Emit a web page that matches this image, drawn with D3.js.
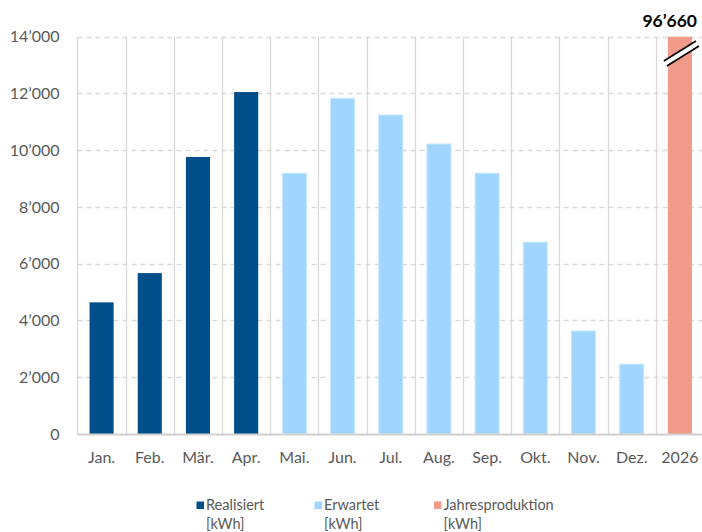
<!DOCTYPE html>
<html><head><meta charset="utf-8">
<script src="https://cdn.jsdelivr.net/npm/d3@7/dist/d3.min.js"></script>
<style>html,body{margin:0;padding:0;background:#fff;overflow:hidden}svg{display:block;font-family:Lato,"Open Sans",sans-serif}</style>
</head><body>
<svg id="c" width="702" height="532"></svg>
<script>
const categories = ["Jan.","Feb.","Mär.","Apr.","Mai.","Jun.","Jul.","Aug.","Sep.","Okt.","Nov.","Dez.","2026"];
const realisiert = [4640, 5670, 9760, 12050];           // Jan.–Apr.
const erwartet = [9190, 11830, 11240, 10220, 9190, 6760, 3630, 2460]; // Mai.–Dez.
const jahresproduktion = [96660];                        // 2026
const yTicks = [0, 2000, 4000, 6000, 8000, 10000, 12000, 14000];
const legendLabels = ["Realisiert", "Erwartet", "Jahresproduktion"];
const legendUnit = "[kWh]";

const colors = {Realisiert:"#004f8b", Erwartet:"#a0d6fe", Jahresproduktion:"#f29a8a"};

const rows = [];
realisiert.forEach((v,i)=>rows.push({cat:categories[i], value:v, series:"Realisiert"}));
erwartet.forEach((v,i)=>rows.push({cat:categories[i+realisiert.length], value:v, series:"Erwartet"}));
jahresproduktion.forEach((v,i)=>rows.push({cat:categories[i+realisiert.length+erwartet.length], value:v, series:"Jahresproduktion"}));

const svg = d3.select("#c");
const pL = 77.5, pR = 704, pT = 36.7, pB = 434;
const x = d3.scaleBand().domain(categories).range([pL, pR]).paddingInner(0.5).paddingOuter(0.25);
const y = d3.scaleLinear().domain([0, 14000]).range([pB, pT]).clamp(true);
const step = x.step();
const loc = d3.formatLocale({decimal:".", thousands:"\u2019", grouping:[3], currency:["",""]});
const fmt = loc.format(",d");

// horizontal dashed gridlines
svg.append("g").selectAll("line").data(yTicks.filter(t=>t>0)).join("line")
  .attr("x1", pL).attr("x2", pR).attr("y1", d=>Math.round(y(d))+0.5).attr("y2", d=>Math.round(y(d))+0.5)
  .attr("stroke", "#d9d9d9").attr("stroke-width", 1.3).attr("stroke-dasharray", "5,4");

// vertical category separators
const seps = categories.map(c => x(c) - step*0.25);
svg.append("g").selectAll("line").data(seps).join("line")
  .attr("x1", d=>Math.round(d)+0.5).attr("x2", d=>Math.round(d)+0.5).attr("y1", pT).attr("y2", pB)
  .attr("stroke", "#d9d9d9").attr("stroke-width", 1.3);

// bars
svg.append("g").selectAll("rect").data(rows).join("rect")
  .attr("x", d=>x(d.cat)).attr("width", x.bandwidth())
  .attr("y", d=>y(d.value)).attr("height", d=>y(0)-y(d.value))
  .attr("fill", d=>colors[d.series])
  .attr("stroke", d=>d.series==="Erwartet" ? "#c8e8ff" : "none").attr("stroke-width", 1);

// baseline axis
svg.append("line").attr("x1", pL).attr("x2", pR).attr("y1", pB+0.5).attr("y2", pB+0.5)
  .attr("stroke", "#d0d0d0").attr("stroke-width", 2);

// y axis labels
const yAxis = d3.axisLeft(y).tickValues(yTicks).tickFormat(fmt).tickSize(0).tickPadding(0);
const gy = svg.append("g").attr("transform", `translate(${pL-18},0)`).call(yAxis);
gy.select(".domain").remove();
gy.selectAll("text").attr("font-size", 16).attr("fill", "#595959").attr("font-family", "Lato,'Open Sans',sans-serif");

// x axis labels
const xAxis = d3.axisBottom(x).tickSize(0).tickPadding(0);
const gx = svg.append("g").attr("transform", `translate(0,${pB+18})`).call(xAxis);
gx.select(".domain").remove();
gx.selectAll("text").attr("font-size", 16).attr("fill", "#595959").attr("font-family", "Lato,'Open Sans',sans-serif");

// axis break on the clipped 2026 bar
const last = categories[categories.length-1];
const bx0 = x(last) - 4, bx1 = x(last) + x.bandwidth() + 4;
const brk = [[bx0, 61], [bx1, 41], [bx1+3, 46], [bx0+3, 66]];
svg.append("polygon").attr("points", brk.map(p=>p.join(",")).join(" ")).attr("fill", "#fff");
svg.append("line").attr("x1", brk[0][0]).attr("y1", brk[0][1]).attr("x2", brk[1][0]).attr("y2", brk[1][1]).attr("stroke", "#000").attr("stroke-width", 1.6);
svg.append("line").attr("x1", brk[3][0]).attr("y1", brk[3][1]).attr("x2", brk[2][0]).attr("y2", brk[2][1]).attr("stroke", "#000").attr("stroke-width", 1.6);

// value label for 2026
svg.append("text").attr("x", 697).attr("y", 26.5).attr("text-anchor", "end")
  .attr("font-size", 17.5).attr("font-weight", "bold").attr("fill", "#000")
  .text(fmt(jahresproduktion[0]));

// legend
const legX = [196.5, 314.5, 434];
const lg = svg.append("g").selectAll("g").data(legendLabels).join("g")
  .attr("transform", (d,i)=>`translate(${legX[i]},0)`);
lg.append("rect").attr("x", 0).attr("y", 501.5).attr("width", 7.5).attr("height", 7.5).attr("fill", d=>colors[d]);
lg.append("text").attr("x", 9.5).attr("y", 509.5).attr("font-size", 14.5).attr("fill", "#595959").text(d=>d);
lg.append("text").attr("x", 9.5).attr("y", 529).attr("font-size", 14.5).attr("fill", "#595959").text(legendUnit);
</script>
</body></html>
